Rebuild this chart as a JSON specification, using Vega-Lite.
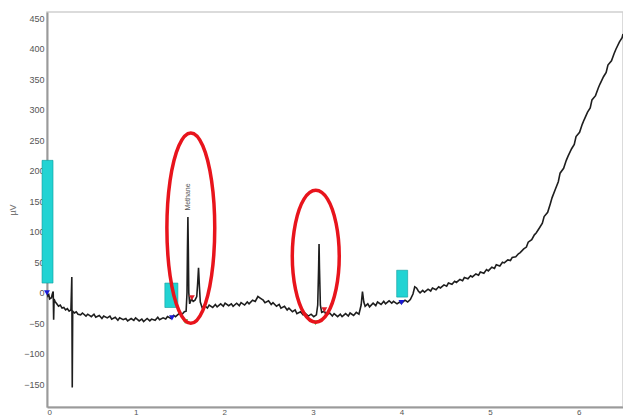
{
  "$schema": "https://vega.github.io/schema/vega-lite/v6.json",
  "width": 576,
  "height": 395,
  "autosize": {"type": "none"},
  "padding": {"left": 47, "top": 12, "right": 0, "bottom": 10},
  "background": "white",
  "config": {
    "view": {"stroke": "#d0d0d0", "strokeWidth": 1.5},
    "font": "Liberation Sans",
    "axis": {"grid": false, "ticks": false, "labelFontSize": 9, "labelColor": "#555", "domainColor": "#9a9a9a", "domainWidth": 2, "labelOverlap": false}
  },
  "datasets": {
    "trace": [
      {"t":0.00,"v":0},{"t":0.01,"v":-5},{"t":0.02,"v":-3},{"t":0.03,"v":-10},{"t":0.05,"v":-8},{"t":0.06,"v":-2},{"t":0.07,"v":2},{"t":0.075,"v":-44},{"t":0.08,"v":-10},{"t":0.09,"v":-14},{"t":0.11,"v":-18},{"t":0.13,"v":-22},{"t":0.15,"v":-20},{"t":0.17,"v":-25},{"t":0.19,"v":-24},{"t":0.21,"v":-28},{"t":0.23,"v":-26},{"t":0.25,"v":-30},{"t":0.27,"v":-28},{"t":0.28,"v":26},{"t":0.285,"v":-155},{"t":0.29,"v":-30},{"t":0.31,"v":-33},{"t":0.33,"v":-31},{"t":0.35,"v":-35},
      {"t":0.38,"v":-36},{"t":0.40,"v":-33},{"t":0.44,"v":-38},{"t":0.46,"v":-35},{"t":0.50,"v":-39},{"t":0.53,"v":-35},{"t":0.55,"v":-40},{"t":0.59,"v":-37},{"t":0.62,"v":-42},{"t":0.64,"v":-38},{"t":0.68,"v":-41},{"t":0.71,"v":-38},{"t":0.73,"v":-43},{"t":0.77,"v":-40},{"t":0.80,"v":-45},{"t":0.82,"v":-41},{"t":0.86,"v":-44},{"t":0.89,"v":-42},{"t":0.91,"v":-46},{"t":0.95,"v":-42},{"t":0.98,"v":-45},{"t":1.00,"v":-41},{"t":1.04,"v":-46},{"t":1.07,"v":-43},{"t":1.09,"v":-47},{"t":1.13,"v":-42},{"t":1.16,"v":-46},{"t":1.18,"v":-43},{"t":1.22,"v":-45},{"t":1.25,"v":-40},{"t":1.27,"v":-44},{"t":1.31,"v":-41},{"t":1.34,"v":-43},{"t":1.36,"v":-39},{"t":1.40,"v":-42},{"t":1.43,"v":-37},{"t":1.45,"v":-39},{"t":1.49,"v":-34},{"t":1.52,"v":-36},{"t":1.55,"v":-31},{"t":1.57,"v":-30},
      {"t":1.58,"v":0},{"t":1.585,"v":70},{"t":1.59,"v":124},{"t":1.595,"v":70},{"t":1.60,"v":0},{"t":1.61,"v":-18},{"t":1.63,"v":-10},{"t":1.65,"v":-14},{"t":1.67,"v":-12},{"t":1.69,"v":-6},{"t":1.70,"v":15},{"t":1.71,"v":41},{"t":1.72,"v":10},{"t":1.73,"v":-15},{"t":1.75,"v":-24},{"t":1.78,"v":-21},
      {"t":1.81,"v":-25},{"t":1.83,"v":-20},{"t":1.87,"v":-24},{"t":1.90,"v":-19},{"t":1.92,"v":-23},{"t":1.96,"v":-18},{"t":1.99,"v":-22},{"t":2.01,"v":-17},{"t":2.05,"v":-21},{"t":2.08,"v":-18},{"t":2.10,"v":-22},{"t":2.14,"v":-17},{"t":2.17,"v":-21},{"t":2.19,"v":-16},{"t":2.23,"v":-20},{"t":2.26,"v":-15},{"t":2.28,"v":-18},{"t":2.32,"v":-12},{"t":2.35,"v":-14},{"t":2.38,"v":-6},{"t":2.41,"v":-9},{"t":2.44,"v":-12},{"t":2.46,"v":-16},{"t":2.50,"v":-13},{"t":2.53,"v":-19},{"t":2.55,"v":-16},{"t":2.59,"v":-22},{"t":2.62,"v":-19},{"t":2.64,"v":-25},{"t":2.68,"v":-22},{"t":2.71,"v":-28},{"t":2.73,"v":-25},{"t":2.77,"v":-31},{"t":2.80,"v":-28},{"t":2.82,"v":-34},{"t":2.86,"v":-31},{"t":2.89,"v":-36},{"t":2.91,"v":-33},{"t":2.95,"v":-38},{"t":2.98,"v":-35},{"t":3.01,"v":-39},{"t":3.04,"v":-36},
      {"t":3.055,"v":-20},{"t":3.065,"v":40},{"t":3.07,"v":80},{"t":3.075,"v":40},{"t":3.085,"v":-20},{"t":3.10,"v":-32},{"t":3.13,"v":-30},{"t":3.15,"v":-36},{"t":3.19,"v":-33},{"t":3.22,"v":-38},{"t":3.24,"v":-34},{"t":3.28,"v":-39},{"t":3.31,"v":-35},{"t":3.33,"v":-39},{"t":3.37,"v":-34},{"t":3.40,"v":-38},{"t":3.42,"v":-33},{"t":3.46,"v":-37},{"t":3.49,"v":-32},{"t":3.52,"v":-35},{"t":3.545,"v":-20},{"t":3.56,"v":2},{"t":3.575,"v":-15},{"t":3.59,"v":-22},{"t":3.62,"v":-18},{"t":3.64,"v":-23},{"t":3.68,"v":-17},{"t":3.71,"v":-21},{"t":3.73,"v":-15},{"t":3.77,"v":-19},{"t":3.80,"v":-14},{"t":3.82,"v":-18},{"t":3.86,"v":-13},{"t":3.89,"v":-17},{"t":3.91,"v":-14},{"t":3.95,"v":-18},{"t":3.98,"v":-15},{"t":4.00,"v":-17},{"t":4.04,"v":-12},{"t":4.07,"v":-15},{"t":4.10,"v":-11},{"t":4.13,"v":-2},{"t":4.15,"v":10},{"t":4.17,"v":8},{"t":4.19,"v":3},{"t":4.21,"v":0},{"t":4.24,"v":4},{"t":4.26,"v":1},{"t":4.30,"v":6},{"t":4.33,"v":3},{"t":4.35,"v":8},{"t":4.39,"v":5},{"t":4.42,"v":10},{"t":4.44,"v":8},{"t":4.48,"v":13},{"t":4.51,"v":11},{"t":4.53,"v":16},
      {"t":4.57,"v":14},{"t":4.60,"v":19},{"t":4.62,"v":17},{"t":4.66,"v":22},{"t":4.69,"v":20},{"t":4.71,"v":25},{"t":4.75,"v":23},{"t":4.78,"v":28},{"t":4.80,"v":26},{"t":4.84,"v":31},{"t":4.87,"v":29},{"t":4.89,"v":34},{"t":4.93,"v":32},{"t":4.96,"v":38},{"t":4.98,"v":36},{"t":5.02,"v":42},{"t":5.05,"v":40},{"t":5.07,"v":46},{"t":5.11,"v":44},{"t":5.14,"v":50},{"t":5.16,"v":49},{"t":5.20,"v":54},{"t":5.23,"v":53},{"t":5.25,"v":58},{"t":5.29,"v":59},{"t":5.32,"v":64},{"t":5.34,"v":66},{"t":5.38,"v":72},{"t":5.41,"v":75},{"t":5.43,"v":83},{"t":5.47,"v":87},{"t":5.50,"v":95},{"t":5.52,"v":98},{"t":5.56,"v":107},{"t":5.59,"v":114},{"t":5.61,"v":125},{"t":5.65,"v":132},{"t":5.68,"v":146},{"t":5.70,"v":156},{"t":5.74,"v":171},{"t":5.77,"v":182},{"t":5.79,"v":196},{"t":5.83,"v":204},{"t":5.86,"v":217},{"t":5.88,"v":224},{"t":5.92,"v":236},{"t":5.95,"v":243},{"t":5.97,"v":256},{"t":6.01,"v":263},{"t":6.04,"v":276},{"t":6.06,"v":283},{"t":6.10,"v":296},{"t":6.13,"v":303},{"t":6.15,"v":316},{"t":6.19,"v":323},{"t":6.22,"v":335},{"t":6.24,"v":342},{"t":6.28,"v":354},{"t":6.31,"v":361},{"t":6.33,"v":373},{"t":6.37,"v":380},{"t":6.40,"v":392},{"t":6.42,"v":399},{"t":6.46,"v":411},{"t":6.49,"v":418},{"t":6.50,"v":424}
    ],
    "ellipses": [
      {"e":1,"i":0,"t":1.893,"v":106},{"e":1,"i":1,"t":1.857,"v":184},{"e":1,"i":2,"t":1.758,"v":241},{"e":1,"i":3,"t":1.623,"v":262},{"e":1,"i":4,"t":1.488,"v":241},{"e":1,"i":5,"t":1.389,"v":184},{"e":1,"i":6,"t":1.353,"v":106},{"e":1,"i":7,"t":1.389,"v":28},{"e":1,"i":8,"t":1.488,"v":-29},{"e":1,"i":9,"t":1.623,"v":-50},{"e":1,"i":10,"t":1.758,"v":-29},{"e":1,"i":11,"t":1.857,"v":28},
      {"e":2,"i":0,"t":3.298,"v":60},{"e":2,"i":1,"t":3.262,"v":114},{"e":2,"i":2,"t":3.166,"v":153.5},{"e":2,"i":3,"t":3.033,"v":168},{"e":2,"i":4,"t":2.900,"v":153.5},{"e":2,"i":5,"t":2.804,"v":114},{"e":2,"i":6,"t":2.768,"v":60},{"e":2,"i":7,"t":2.804,"v":6},{"e":2,"i":8,"t":2.900,"v":-33.5},{"e":2,"i":9,"t":3.033,"v":-48},{"e":2,"i":10,"t":3.166,"v":-33.5},{"e":2,"i":11,"t":3.262,"v":6}
    ],
    "boxes": [
      {"t1":-0.056,"t2":0.068,"v1":16,"v2":217},
      {"t1":1.33,"t2":1.477,"v1":-24,"v2":16},
      {"t1":3.946,"t2":4.07,"v1":-7,"v2":37}
    ],
    "markers": [
      {"t":0.0,"v":0,"kind":"blue"},
      {"t":1.41,"v":-41,"kind":"blue"},
      {"t":4.0,"v":-16,"kind":"blue"},
      {"t":1.635,"v":-8,"kind":"red"},
      {"t":3.13,"v":-28,"kind":"red"},
      {"t":1.56,"v":-47,"kind":"green"},
      {"t":3.03,"v":-49,"kind":"green"}
    ],
    "labels": [
      {"t":1.59,"v":157,"txt":"Methane"}
    ]
  },
  "layer": [
    {
      "data": {"name": "trace"},
      "mark": {"type": "line", "color": "#1e1e1e", "strokeWidth": 1.6, "clip": true},
      "encoding": {
        "x": {"field": "t", "type": "quantitative", "scale": {"domain": [0, 6.5], "nice": false, "zero": false},
              "axis": {"values": [0,1,2,3,4,5,6], "tickCount": 20, "format": "d", "title": null, "labelPadding": 1, "labelFontSize": 8, "labelOverlap": false}},
        "y": {"field": "v", "type": "quantitative", "scale": {"domain": [-187, 460], "nice": false, "zero": false},
              "axis": {"values": [-150,-100,-50,0,50,100,150,200,250,300,350,400,450], "tickCount": 30, "format": "d", "title": "µV", "titleFontSize": 9, "titleFontWeight": "normal", "titleColor": "#777", "titlePadding": 6, "labelPadding": 3, "labelOverlap": false}},
        "order": {"field": "t", "type": "quantitative"}
      }
    },
    {
      "data": {"name": "boxes"},
      "mark": {"type": "rect", "fill": "#22d3d3", "stroke": "#0e9c9c", "strokeWidth": 0.6},
      "encoding": {
        "x": {"field": "t1", "type": "quantitative"},
        "x2": {"field": "t2"},
        "y": {"field": "v1", "type": "quantitative"},
        "y2": {"field": "v2"}
      }
    },
    {
      "data": {"name": "markers"},
      "mark": {"type": "point", "filled": true, "shape": "triangle-down", "size": 35, "opacity": 1},
      "encoding": {
        "x": {"field": "t", "type": "quantitative"},
        "y": {"field": "v", "type": "quantitative"},
        "color": {"field": "kind", "type": "nominal", "scale": {"domain": ["blue","red","green"], "range": ["#1a1ad6","#e0202a","#5ad65a"]}, "legend": null}
      }
    },
    {
      "data": {"name": "labels"},
      "mark": {"type": "text", "angle": 270, "fontSize": 7, "color": "#555", "align": "center", "baseline": "middle"},
      "encoding": {
        "x": {"field": "t", "type": "quantitative"},
        "y": {"field": "v", "type": "quantitative"},
        "text": {"field": "txt"}
      }
    },
    {
      "data": {"name": "ellipses"},
      "mark": {"type": "line", "interpolate": "cardinal-closed", "color": "#e8141c", "strokeWidth": 3.5},
      "encoding": {
        "x": {"field": "t", "type": "quantitative"},
        "y": {"field": "v", "type": "quantitative"},
        "detail": {"field": "e", "type": "nominal"},
        "order": {"field": "i", "type": "quantitative"}
      }
    }
  ]
}
